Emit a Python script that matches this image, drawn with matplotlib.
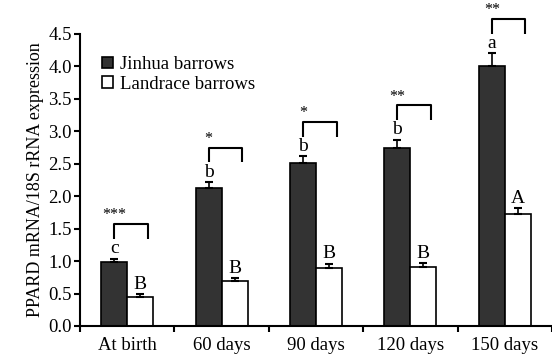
import matplotlib

matplotlib.use("Agg")

import matplotlib.pyplot as plt
import numpy as np

plt.rcParams["font.family"] = ["Liberation Serif", "DejaVu Serif"]

stages = ["At birth", "60 days", "90 days", "120 days", "150 days"]
jinhua = [0.99, 2.12, 2.51, 2.74, 4.0]
jinhua_err = [0.05, 0.10, 0.11, 0.13, 0.20]
landrace = [0.44, 0.69, 0.90, 0.91, 1.72]
landrace_err = [0.05, 0.05, 0.06, 0.06, 0.10]
jinhua_letters = ["c", "b", "b", "b", "a"]
landrace_letters = ["B", "B", "B", "B", "A"]
stars = ["***", "*", "*", "**", "**"]

fig = plt.figure(figsize=(5.52, 3.56), dpi=100)
ax = fig.add_axes([0.145, 0.0843, 0.855, 0.8202])

x = np.arange(len(stages))
w = 0.275

ax.bar(x - w / 2, jinhua, w, color="#333333", edgecolor="black",
       linewidth=1.2, label="Jinhua barrows")
ax.bar(x + w / 2, landrace, w, color="white", edgecolor="black",
       linewidth=1.2, label="Landrace barrows")
ax.errorbar(x - w / 2, jinhua, yerr=[np.zeros(5), jinhua_err], fmt="none",
            ecolor="black", elinewidth=1.2, capsize=3, capthick=1.5)
ax.errorbar(x + w / 2, landrace, yerr=[np.zeros(5), landrace_err], fmt="none",
            ecolor="black", elinewidth=1.2, capsize=3, capthick=1.5)

for i in range(len(stages)):
    top_j = jinhua[i] + jinhua_err[i]
    top_l = landrace[i] + landrace_err[i]
    ax.annotate(jinhua_letters[i], (x[i] - w / 2, top_j), xytext=(0, 1),
                textcoords="offset points", ha="center", va="bottom", fontsize=14)
    ax.annotate(landrace_letters[i], (x[i] + w / 2, top_l), xytext=(0, 1),
                textcoords="offset points", ha="center", va="bottom", fontsize=14)
    # significance bracket
    yb = top_j + 0.53
    x0 = x[i] - w / 2
    x1 = x0 + 0.355
    ax.plot([x0, x0, x1, x1], [yb - 0.23, yb, yb, yb - 0.23], color="black",
            lw=1.5, clip_on=False, solid_capstyle="butt")
    ax.annotate(stars[i], (x0, yb), xytext=(0, 0.5), textcoords="offset points",
                ha="center", va="bottom", fontsize=11.5, annotation_clip=False)

ax.set_xlim(-0.5, 4.47)
ax.set_ylim(0, 4.5)
ax.set_yticks(np.arange(0, 4.51, 0.5))
ax.set_yticklabels([f"{v:.1f}" for v in np.arange(0, 4.51, 0.5)], fontsize=13.5)
ax.set_xticks(x)
ax.set_xticklabels(stages, fontsize=13.5)
ax.tick_params(axis="x", length=0, pad=8)
ax.set_xticks(np.arange(-0.5, 4.6, 1.0), minor=True)
ax.tick_params(axis="x", which="minor", direction="out", length=4.5, width=1.5)
ax.tick_params(axis="y", direction="out", length=4, width=1.5, pad=2)

for s in ["top", "right"]:
    ax.spines[s].set_visible(False)
for s in ["left", "bottom"]:
    ax.spines[s].set_linewidth(1.5)

ax.set_ylabel("PPARD mRNA/18S rRNA expression", fontsize=13, labelpad=3)

ax.legend(loc="upper left", bbox_to_anchor=(0.03, 0.95), frameon=False,
          fontsize=13.5, handlelength=0.6, handleheight=0.6, handletextpad=0.4,
          labelspacing=0.15, borderaxespad=0)

fig.savefig("out.png", dpi=100)
